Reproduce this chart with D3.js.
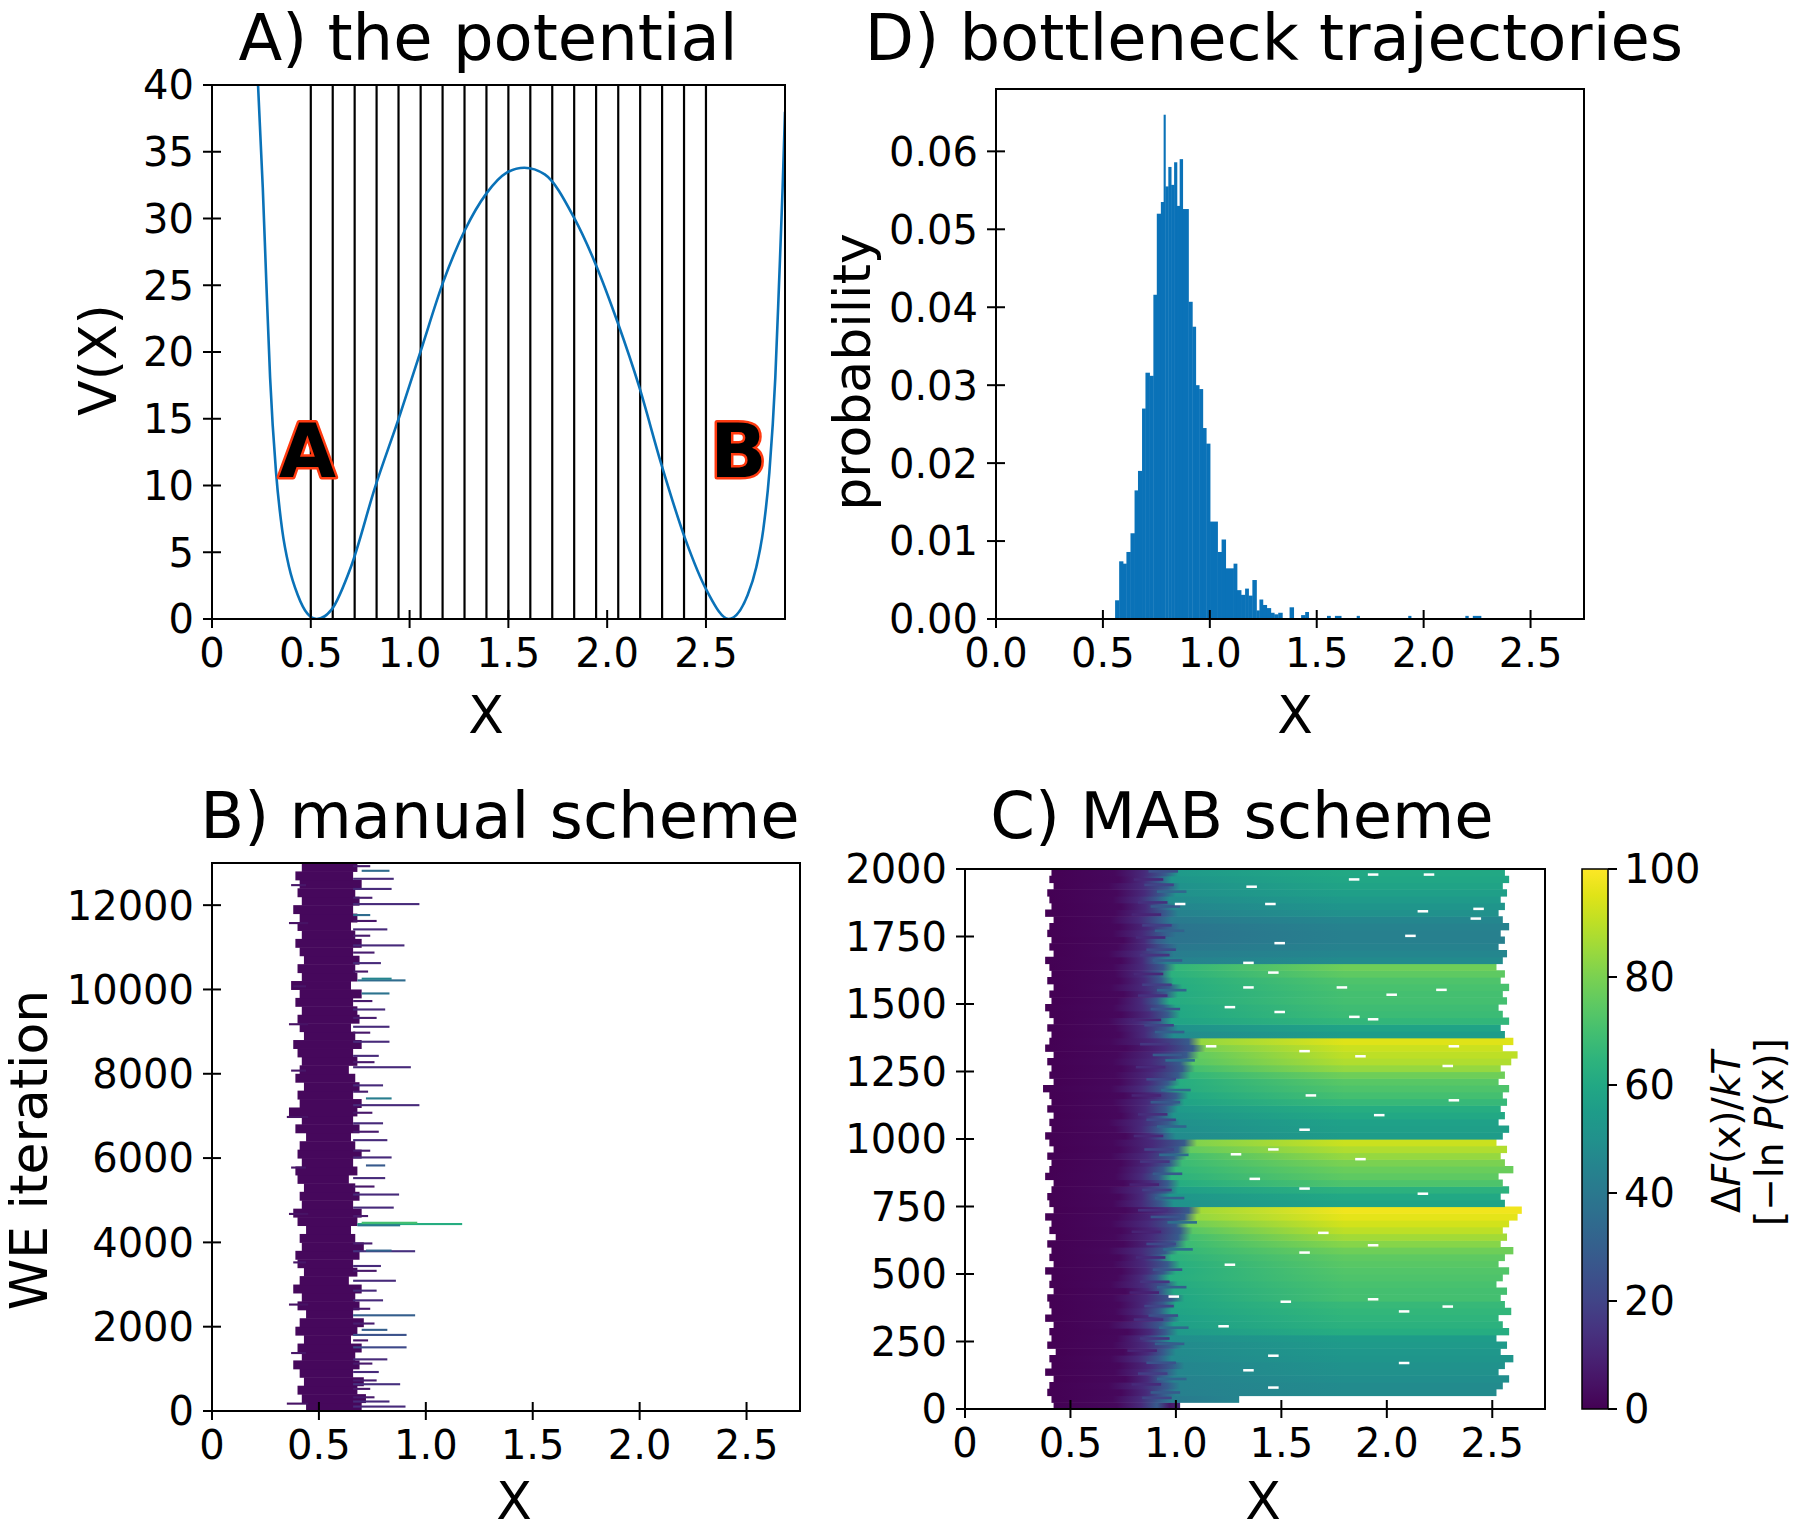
<!DOCTYPE html>
<html><head><meta charset="utf-8">
<script src="https://cdn.jsdelivr.net/npm/d3@7"></script>
<style>body{margin:0;background:#fff}text{font-family:"DejaVu Sans",sans-serif}</style>
</head><body>
<script>
// ---------------- DATA ----------------
// Panel A: potential V(X)
const potX = [0.233,0.257,0.275,0.294,0.324,0.355,0.39,0.434,0.483,0.53,0.605,0.703,0.826,0.949,1.059,1.169,1.279,1.39,1.488,1.581,1.684,1.831,1.941,2.051,2.162,2.272,2.395,2.505,2.615,2.711,2.755,2.79,2.821,2.851,2.87,2.888,2.9];
const potV = [40,32.3,25.2,18.1,11.0,6.7,3.9,1.8,0.4,0,0.7,3.9,9.9,15.2,20.2,25.2,29.1,31.9,33.4,33.8,33.3,30.1,26.6,22.3,17.4,11.7,6.0,2.1,0,1.8,3.9,6.7,11.0,18.1,25.2,32.3,38.0];
const binEdges = [0.5,0.611,0.722,0.833,0.944,1.056,1.167,1.278,1.389,1.5,1.611,1.722,1.833,1.944,2.056,2.167,2.278,2.389,2.5];
const aXTicks = [0,0.5,1.0,1.5,2.0,2.5];
const aXLabels = ["0","0.5","1.0","1.5","2.0","2.5"];
const aYTicks = [0,5,10,15,20,25,30,35,40];
const stateLabels = ["A","B"];
const stateX = [0.483,2.665];
const stateV = [10.6,10.6];

// Panel D: histogram of bottleneck trajectories
const histX0 = [0.557,0.576,0.594,0.610,0.629,0.648,0.664,0.683,0.699,0.718,0.736,0.752,0.771,0.784,0.792,0.806,0.819,0.833,0.846,0.859,0.873,0.900,0.918,0.934,0.950,0.967,0.983,1.001,1.036,1.055,1.074,1.111,1.127,1.146,1.165,1.181,1.199,1.218,1.232,1.248,1.266,1.285,1.301,1.320,1.373,1.427,1.446,1.548,1.585,1.687,1.928,2.195,2.230];
const histX1 = [0.576,0.594,0.610,0.629,0.648,0.664,0.683,0.699,0.718,0.736,0.752,0.771,0.784,0.792,0.806,0.819,0.833,0.846,0.859,0.873,0.900,0.918,0.934,0.950,0.967,0.983,1.001,1.036,1.055,1.074,1.111,1.127,1.146,1.165,1.181,1.199,1.218,1.232,1.248,1.266,1.285,1.301,1.320,1.339,1.392,1.446,1.462,1.564,1.614,1.700,1.941,2.209,2.268];
const histP  = [0.0024,0.0074,0.0071,0.0086,0.011,0.0165,0.019,0.027,0.0316,0.0312,0.0416,0.052,0.0535,0.0647,0.0555,0.058,0.0557,0.0586,0.053,0.059,0.0526,0.0407,0.0375,0.030,0.0295,0.0245,0.0225,0.0125,0.0086,0.0102,0.0065,0.0071,0.0037,0.0031,0.0039,0.003,0.005,0.0011,0.0025,0.0018,0.0014,0.0008,0.0006,0.0008,0.0015,0.0005,0.0009,0.0004,0.0004,0.0004,0.0004,0.0004,0.0004];
const dXTicks = [0,0.5,1.0,1.5,2.0,2.5];
const dXLabels = ["0.0","0.5","1.0","1.5","2.0","2.5"];
const dYTicks = [0,0.01,0.02,0.03,0.04,0.05,0.06];
const dYLabels = ["0.00","0.01","0.02","0.03","0.04","0.05","0.06"];

// Panel B: manual scheme, rows every 200 WE iterations
const bIter = [0,200,400,600,800,1000,1200,1400,1600,1800,2000,2200,2400,2600,2800,3000,3200,3400,3600,3800,4000,4200,4400,4600,4800,5000,5200,5400,5600,5800,6000,6200,6400,6600,6800,7000,7200,7400,7600,7800,8000,8200,8400,8600,8800,9000,9200,9400,9600,9800,10000,10200,10400,10600,10800,11000,11200,11400,11600,11800,12000,12200,12400,12600,12800];
const bLeft = [0.44,0.42,0.40,0.43,0.41,0.38,0.42,0.40,0.43,0.39,0.41,0.44,0.40,0.42,0.38,0.41,0.43,0.40,0.39,0.42,0.41,0.44,0.40,0.38,0.42,0.41,0.43,0.40,0.39,0.42,0.40,0.41,0.44,0.39,0.42,0.36,0.41,0.40,0.43,0.39,0.41,0.42,0.40,0.38,0.43,0.41,0.40,0.42,0.39,0.41,0.37,0.42,0.40,0.43,0.41,0.39,0.42,0.40,0.41,0.38,0.42,0.40,0.41,0.39,0.42];
const bRight = [0.70,0.72,0.68,0.71,0.66,0.69,0.67,0.70,0.65,0.68,0.71,0.66,0.69,0.67,0.70,0.64,0.68,0.66,0.69,0.71,0.67,0.65,0.68,0.70,0.66,0.69,0.67,0.64,0.68,0.66,0.70,0.67,0.65,0.69,0.66,0.68,0.70,0.66,0.69,0.67,0.64,0.68,0.66,0.70,0.67,0.65,0.69,0.68,0.66,0.70,0.65,0.68,0.67,0.69,0.66,0.70,0.67,0.65,0.68,0.66,0.69,0.67,0.70,0.66,0.68];
// streaks: iteration, x start, x end, -lnP value
const bStreakIter = [4410,4440,4380,12000,7230,2245,1780,1485,3765,3780,10190,10230,9880,12790,11740,7390,8130,12360,11020,9090,5110,610,200,80,8735,5990,2830,3415,3065,6400,6800,5500,4800,2600,1200,900,9500,10600,11400,12600,7700,8400,5800,1900,
  300,500,700,1100,1650,2050,2400,3300,3950,4600,5300,6150,6600,7050,7550,8250,8950,9300,9700,10400,10850,11250,11600,12150,12900,
  150,1350,2500,3500,4650,5750,6950,8050,9150,10050,11550,12450];
const bStreakX0 = [0.68,0.70,0.68,0.66,0.66,0.66,0.66,0.66,0.66,0.72,0.68,0.70,0.70,0.70,0.66,0.72,0.66,0.66,0.66,0.66,0.66,0.66,0.66,0.66,0.66,0.66,0.66,0.66,0.66,0.66,0.66,0.66,0.66,0.66,0.66,0.66,0.66,0.66,0.66,0.66,0.66,0.66,0.72,0.70,
  0.66,0.66,0.66,0.66,0.66,0.66,0.66,0.66,0.66,0.66,0.66,0.66,0.66,0.66,0.66,0.66,0.66,0.66,0.66,0.66,0.66,0.66,0.66,0.66,0.66,
  0.35,0.37,0.36,0.38,0.36,0.37,0.35,0.37,0.36,0.38,0.36,0.37];
const bStreakX1 = [1.17,0.96,0.88,0.97,0.97,0.95,0.91,0.91,0.95,0.84,0.905,0.84,0.83,0.83,0.74,0.84,0.93,0.84,0.90,0.83,0.875,0.88,0.83,0.905,0.83,0.84,0.77,0.79,0.86,0.82,0.80,0.81,0.85,0.80,0.82,0.78,0.81,0.79,0.82,0.85,0.80,0.78,0.81,0.82,
  0.76,0.74,0.77,0.75,0.73,0.76,0.74,0.77,0.75,0.73,0.76,0.74,0.78,0.75,0.73,0.76,0.74,0.77,0.75,0.73,0.76,0.74,0.77,0.75,0.74,
  0.45,0.44,0.45,0.44,0.45,0.44,0.45,0.44,0.45,0.44,0.45,0.44];
const bStreakV = [62,70,40,12,12,30,25,22,14,32,35,45,38,35,35,42,12,12,12,12,12,14,12,12,12,12,12,12,12,12,12,12,12,12,12,12,12,12,12,12,12,12,28,30,
  7,6,8,7,6,8,7,6,8,7,6,8,7,6,8,7,6,8,7,6,8,7,6,8,7,
  5,6,5,6,5,6,5,6,5,6,5,6];
const bXTicks = [0,0.5,1.0,1.5,2.0,2.5];
const bXLabels = ["0","0.5","1.0","1.5","2.0","2.5"];
const bYTicks = [0,2000,4000,6000,8000,10000,12000];

// Panel C: MAB scheme, rows every 25 WE iterations
const cIter = [0,25,50,75,100,125,150,175,200,225,250,275,300,325,350,375,400,425,450,475,500,525,550,575,600,625,650,675,700,725,750,775,800,825,850,875,900,925,950,975,1000,1025,1050,1075,1100,1125,1150,1175,1200,1225,1250,1275,1300,1325,1350,1375,1400,1425,1450,1475,1500,1525,1550,1575,1600,1625,1650,1675,1700,1725,1750,1775,1800,1825,1850,1875,1900,1925,1950,1975];
const cLeft = [0.42,0.41,0.39,0.40,0.42,0.38,0.41,0.40,0.43,0.39,0.41,0.40,0.42,0.38,0.41,0.40,0.39,0.42,0.40,0.41,0.38,0.42,0.40,0.41,0.39,0.43,0.40,0.41,0.38,0.42,0.40,0.39,0.41,0.42,0.38,0.40,0.41,0.39,0.42,0.40,0.38,0.41,0.40,0.42,0.39,0.41,0.40,0.37,0.42,0.40,0.41,0.39,0.42,0.38,0.40,0.41,0.39,0.42,0.40,0.38,0.41,0.40,0.42,0.39,0.41,0.40,0.38,0.42,0.40,0.41,0.39,0.40,0.42,0.38,0.41,0.40,0.39,0.42,0.40,0.41];
const cMid = [0.72,0.70,0.74,0.68,0.76,0.71,0.73,0.69,0.75,0.70,0.72,0.77,0.68,0.74,0.71,0.73,0.70,0.76,0.69,0.72,0.74,0.70,0.73,0.68,0.75,0.71,0.74,0.69,0.72,0.76,0.70,0.73,0.68,0.75,0.71,0.72,0.74,0.69,0.73,0.70,0.76,0.71,0.68,0.74,0.72,0.70,0.75,0.69,0.73,0.71,0.74,0.70,0.72,0.76,0.69,0.73,0.71,0.68,0.74,0.70,0.72,0.75,0.69,0.73,0.71,0.70,0.74,0.68,0.72,0.75,0.70,0.73,0.69,0.71,0.74,0.70,0.72,0.68,0.73,0.71];
const cTeal = [0.95,0.96,0.98,1.00,0.97,0.99,1.02,0.96,0.98,1.01,0.95,0.99,0.97,1.00,0.96,0.98,1.02,0.97,0.99,0.95,0.98,1.00,0.96,0.99,1.03,1.05,1.06,1.04,1.08,1.10,0.97,0.95,0.99,1.00,0.96,0.98,1.01,1.03,1.05,1.08,0.98,0.96,1.00,0.97,0.99,1.02,1.04,0.98,1.00,1.05,1.07,1.06,1.09,1.12,1.10,0.97,0.99,0.96,1.00,0.98,0.95,0.99,1.01,0.97,0.96,0.98,0.94,0.97,0.99,0.95,0.98,1.00,0.96,0.99,0.97,0.95,0.98,1.00,0.96,0.99];
const cRight = [1.02,1.30,2.52,2.55,2.58,2.53,2.56,2.60,2.54,2.57,2.52,2.58,2.55,2.53,2.59,2.56,2.54,2.57,2.52,2.55,2.58,2.53,2.56,2.60,2.54,2.57,2.55,2.58,2.62,2.64,2.56,2.54,2.58,2.55,2.53,2.60,2.56,2.54,2.57,2.52,2.55,2.58,2.53,2.56,2.54,2.57,2.55,2.58,2.53,2.56,2.54,2.59,2.62,2.55,2.60,2.56,2.54,2.58,2.55,2.53,2.57,2.55,2.58,2.54,2.56,2.52,2.55,2.57,2.53,2.56,2.54,2.58,2.55,2.53,2.56,2.54,2.57,2.55,2.58,2.56];
const cValL = [10,45,47,48,48,50,50,51,52,52,53,58,60,61,62,63,64,64,65,66,66,67,68,70,72,74,78,82,88,90,55,56,60,66,68,70,72,74,80,85,52,53,54,56,58,62,64,65,66,70,74,78,80,84,88,52,55,62,64,64,65,65,66,66,68,70,48,46,44,42,42,43,45,48,50,52,54,55,56,58];
const cValR = [10,45,48,48,49,50,51,52,53,54,55,62,64,65,66,67,70,70,71,72,73,74,75,78,82,86,90,93,96,98,58,60,64,72,75,77,80,84,88,92,55,56,57,60,62,67,70,72,74,78,84,88,90,92,95,55,58,66,68,69,70,70,71,72,75,78,48,46,44,43,43,44,46,50,52,54,56,58,59,60];
// ragged purple/blue lines reaching into the plateau: iteration, x end, value
const cJagIter = [40,60,90,110,130,170,215,240,260,300,330,345,380,430,450,470,515,560,590,610,655,690,710,735,780,810,830,870,915,940,960,1010,1045,1070,1090,1135,1160,1180,1220,1265,1290,1310,1350,1395,1420,1440,1480,1530,1550,1570,1610,1660,1680,1700,1745,1770,1790,1830,1860,1875,1915,1940,1960,1990];
const cJagX = [0.98,1.02,0.93,1.05,0.96,1.00,0.91,1.04,0.97,1.06,0.94,1.01,0.99,0.92,1.05,0.97,1.03,0.95,1.08,1.00,0.93,1.10,1.02,0.96,1.04,0.98,0.92,1.03,0.97,1.06,0.99,0.94,1.05,1.00,0.96,1.02,0.93,1.07,1.00,0.95,1.09,1.03,0.97,1.04,0.99,0.93,1.02,0.96,1.05,0.98,0.94,1.03,0.97,1.00,0.95,1.04,0.98,0.93,1.02,0.96,1.05,0.99,0.94,1.01];
const cJagV = [20,28,12,32,18,25,10,30,16,34,14,24,20,9,30,15,26,12,35,22,10,36,26,14,30,18,9,28,15,34,20,11,32,22,13,27,10,34,22,12,36,28,16,30,20,10,26,14,32,18,11,29,15,22,12,31,18,10,27,14,33,20,11,24];
// white gaps in panel C: iteration, x start
const cGapIter = [1933,1869,1869,1978,1978,1960,1851,1751,1724,1842,1815,1651,1615,1560,1560,1551,1487,1469,1451,1442,1533,1342,1324,1342,1305,1269,1142,1160,1087,1033,960,942,924,851,815,796,651,605,578,533,415,396,405,360,378,305,196,169,142,78];
const cGapX = [1.334,1.423,0.995,1.91,2.175,1.82,2.41,2.087,1.467,2.146,2.397,1.319,1.437,1.319,1.762,2.234,1.231,1.467,1.821,1.91,1.998,2.293,1.585,1.142,1.85,2.264,2.293,1.615,1.939,1.585,1.437,1.26,1.85,1.349,1.585,2.146,1.674,1.91,1.585,1.231,0.965,1.496,1.91,2.057,2.264,1.201,1.437,2.057,1.319,1.437];
const cXTicks = [0,0.5,1.0,1.5,2.0,2.5];
const cXLabels = ["0","0.5","1.0","1.5","2.0","2.5"];
const cYTicks = [0,250,500,750,1000,1250,1500,1750,2000];
const cbTicks = [0,20,40,60,80,100];

// ---------------- LAYOUT ----------------
const W = 1800, H = 1532;
const svg = d3.select("body").append("svg").attr("width", W).attr("height", H);
svg.append("rect").attr("width", W).attr("height", H).attr("fill", "#fff");
const defs = svg.append("defs");
const BLUE = "#0a72b8";

const boxA = {l:212, r:785, t:85, b:619};
const boxD = {l:996, r:1584, t:89, b:619};
const boxB = {l:212, r:800, t:863, b:1411};
const boxC = {l:965, r:1545, t:869, b:1409};
const boxCB = {l:1582, r:1608, t:869, b:1409};

let clipN = 0;
function clipFor(box){
  const id = "clip" + (clipN++);
  defs.append("clipPath").attr("id", id).append("rect")
    .attr("x", box.l).attr("y", box.t).attr("width", box.r - box.l).attr("height", box.b - box.t);
  return "url(#" + id + ")";
}

function frame(box, x, y, xt, xl, yt, yl){
  const g = svg.append("g");
  g.append("rect").attr("x", box.l).attr("y", box.t).attr("width", box.r - box.l).attr("height", box.b - box.t)
    .attr("fill", "none").attr("stroke", "#000").attr("stroke-width", 2);
  xt.forEach((v, i) => {
    const px = x(v);
    g.append("line").attr("x1", px).attr("x2", px).attr("y1", box.b - 9).attr("y2", box.b + 9)
      .attr("stroke", "#000").attr("stroke-width", 2);
    g.append("text").attr("x", px).attr("y", box.b + 48).attr("text-anchor", "middle")
      .attr("font-size", 40).text(xl[i]);
  });
  yt.forEach((v, i) => {
    const py = y(v);
    g.append("line").attr("x1", box.l - 9).attr("x2", box.l + 9).attr("y1", py).attr("y2", py)
      .attr("stroke", "#000").attr("stroke-width", 2);
    g.append("text").attr("x", box.l - 18).attr("y", py).attr("dy", "0.36em").attr("text-anchor", "end")
      .attr("font-size", 40).text(yl[i]);
  });
}
function title(txt, cx, by){
  svg.append("text").attr("x", cx).attr("y", by).attr("text-anchor", "middle").attr("font-size", 64).text(txt);
}
function xlabel(txt, cx, by){
  svg.append("text").attr("x", cx).attr("y", by).attr("text-anchor", "middle").attr("font-size", 52).text(txt);
}
function ylabel(txt, bx, cy){
  svg.append("text").attr("transform", `translate(${bx},${cy}) rotate(-90)`).attr("text-anchor", "middle")
    .attr("font-size", 52).text(txt);
}
const vir = t => d3.interpolateViridis(Math.max(0, Math.min(1, t)));

// ---------------- PANEL A ----------------
{
  const x = d3.scaleLinear().domain([0, 2.9]).range([boxA.l, boxA.r]);
  const y = d3.scaleLinear().domain([0, 40]).range([boxA.b, boxA.t]);
  const g = svg.append("g").attr("clip-path", clipFor(boxA));
  g.selectAll("line.bin").data(binEdges).join("line")
    .attr("x1", d => x(d)).attr("x2", d => x(d)).attr("y1", y(0)).attr("y2", y(40))
    .attr("stroke", "#000").attr("stroke-width", 2.2);
  const pts = potX.map((v, i) => [v, potV[i]]);
  g.append("path").attr("d", d3.line().x(d => x(d[0])).y(d => y(d[1])).curve(d3.curveMonotoneX)(pts))
    .attr("fill", "none").attr("stroke", BLUE).attr("stroke-width", 2.6);
  stateLabels.forEach((s, i) => {
    svg.append("text").attr("x", x(stateX[i])).attr("y", y(stateV[i])).attr("text-anchor", "middle")
      .attr("font-size", 74).attr("font-weight", "bold").attr("fill", "#000")
      .attr("stroke", "#ff3a10").attr("stroke-width", 5).attr("paint-order", "stroke")
      .attr("stroke-linejoin", "round").text(s);
  });
  frame(boxA, x, y, aXTicks, aXLabels, aYTicks, aYTicks.map(String));
  title("A) the potential", 488, 60);
  xlabel("X", 486, 733);
  ylabel("V(X)", 116, 360);
}

// ---------------- PANEL D ----------------
{
  const x = d3.scaleLinear().domain([0, 2.75]).range([boxD.l, boxD.r]);
  const y = d3.scaleLinear().domain([0, 0.068]).range([boxD.b, boxD.t]);
  const g = svg.append("g").attr("clip-path", clipFor(boxD));
  g.selectAll("rect").data(histP).join("rect")
    .attr("x", (d, i) => x(histX0[i])).attr("width", (d, i) => Math.max(1.5, x(histX1[i]) - x(histX0[i]) + 0.4))
    .attr("y", d => y(d)).attr("height", d => y(0) - y(d)).attr("fill", BLUE);
  frame(boxD, x, y, dXTicks, dXLabels, dYTicks, dYLabels);
  title("D) bottleneck trajectories", 1274, 60);
  xlabel("X", 1295, 733);
  ylabel("probability", 870, 372);
}

// ---------------- PANEL B ----------------
{
  const x = d3.scaleLinear().domain([0, 2.75]).range([boxB.l, boxB.r]);
  const y = d3.scaleLinear().domain([0, 13000]).range([boxB.b, boxB.t]);
  const g = svg.append("g").attr("clip-path", clipFor(boxB));
  g.selectAll("rect.core").data(bIter).join("rect")
    .attr("x", (d, i) => x(bLeft[i])).attr("width", (d, i) => x(bRight[i]) - x(bLeft[i]))
    .attr("y", d => y(d + 200)).attr("height", d => y(d) - y(d + 200) + 0.5)
    .attr("fill", vir(0.02));
  g.selectAll("rect.streak").data(bStreakIter).join("rect")
    .attr("x", (d, i) => x(bStreakX0[i])).attr("width", (d, i) => x(bStreakX1[i]) - x(bStreakX0[i]))
    .attr("y", d => y(d + 50)).attr("height", d => Math.max(2, y(d) - y(d + 50)))
    .attr("fill", (d, i) => vir(bStreakV[i] / 100));
  frame(boxB, x, y, bXTicks, bXLabels, bYTicks, bYTicks.map(String));
  title("B) manual scheme", 500, 838);
  xlabel("X", 514, 1519);
  ylabel("WE iteration", 47, 1150);
}

// ---------------- PANEL C ----------------
{
  const x = d3.scaleLinear().domain([0, 2.75]).range([boxC.l, boxC.r]);
  const y = d3.scaleLinear().domain([0, 2000]).range([boxC.b, boxC.t]);
  const g = svg.append("g").attr("clip-path", clipFor(boxC));
  cIter.forEach((it, i) => {
    const x0 = x(cLeft[i]), x1 = x(cRight[i]);
    const span = x1 - x0;
    const off = v => Math.max(0, Math.min(1, (x(v) - x0) / span));
    const id = "cg" + i;
    const lg = defs.append("linearGradient").attr("id", id).attr("gradientUnits", "userSpaceOnUse")
      .attr("x1", x0).attr("x2", x1).attr("y1", 0).attr("y2", 0);
    const stops = [
      [0, vir(0)],
      [off(cMid[i]), vir(0.02)],
      [off((cMid[i] + cTeal[i]) / 2), vir(0.12)],
      [off(cTeal[i] - 0.04), vir(0.28)],
      [off(cTeal[i] + 0.02), vir(cValL[i] / 100 - 0.04)],
      [off(1.8), vir(cValR[i] / 100)],
      [1, vir(cValR[i] / 100)]
    ];
    let last = 0;
    stops.forEach(s => { last = Math.max(last, s[0]); lg.append("stop").attr("offset", last).attr("stop-color", s[1]); });
    g.append("rect").attr("x", x0).attr("width", span)
      .attr("y", y(it + 25)).attr("height", y(it) - y(it + 25) + 0.6)
      .attr("fill", `url(#${id})`);
  });
  g.selectAll("rect.jag").data(cJagIter).join("rect")
    .attr("x", (d, i) => x(cJagX[i] - 0.14)).attr("width", (d, i) => x(cJagX[i]) - x(cJagX[i] - 0.14))
    .attr("y", d => y(d + 6)).attr("height", 2.6)
    .attr("fill", (d, i) => vir(cJagV[i] / 100));
  g.selectAll("rect.gap").data(cGapIter).join("rect")
    .attr("x", (d, i) => x(cGapX[i])).attr("width", (d, i) => x(cGapX[i] + 0.05) - x(cGapX[i]))
    .attr("y", d => y(d + 6)).attr("height", 2.5).attr("fill", "#fff");
  frame(boxC, x, y, cXTicks, cXLabels, cYTicks, cYTicks.map(String));
  title("C) MAB scheme", 1242, 838);
  xlabel("X", 1263, 1519);

  // colorbar
  const cy = d3.scaleLinear().domain([0, 100]).range([boxCB.b, boxCB.t]);
  const cg = defs.append("linearGradient").attr("id", "cbar").attr("x1", 0).attr("x2", 0).attr("y1", 1).attr("y2", 0);
  d3.range(0, 1.0001, 0.05).forEach(t => cg.append("stop").attr("offset", t).attr("stop-color", vir(t)));
  svg.append("rect").attr("x", boxCB.l).attr("y", boxCB.t).attr("width", boxCB.r - boxCB.l).attr("height", boxCB.b - boxCB.t)
    .attr("fill", "url(#cbar)").attr("stroke", "#000").attr("stroke-width", 1.5);
  cbTicks.forEach(v => {
    svg.append("line").attr("x1", boxCB.r).attr("x2", boxCB.r + 9).attr("y1", cy(v)).attr("y2", cy(v))
      .attr("stroke", "#000").attr("stroke-width", 2);
    svg.append("text").attr("x", boxCB.r + 16).attr("y", cy(v)).attr("dy", "0.36em").attr("font-size", 40).text(String(v));
  });
  const l1 = svg.append("text").attr("transform", "translate(1740,1132) rotate(-90)").attr("text-anchor", "middle").attr("font-size", 39);
  l1.append("tspan").text("Δ");
  l1.append("tspan").attr("font-style", "italic").text("F");
  l1.append("tspan").text("(x)/");
  l1.append("tspan").attr("font-style", "italic").text("kT");
  const l2 = svg.append("text").attr("transform", "translate(1783,1132) rotate(-90)").attr("text-anchor", "middle").attr("font-size", 39);
  l2.append("tspan").text("[−ln ");
  l2.append("tspan").attr("font-style", "italic").text("P");
  l2.append("tspan").text("(x)]");
}
</script>
</body></html>
